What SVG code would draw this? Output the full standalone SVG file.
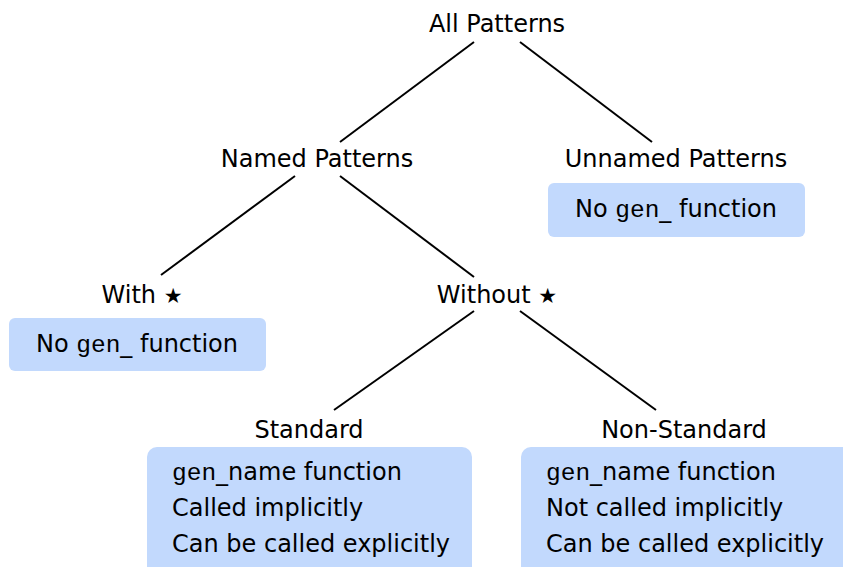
<svg xmlns="http://www.w3.org/2000/svg" width="843" height="567" viewBox="0 0 843 567">
<style>
text{font-family:"DejaVu Sans","Liberation Sans",sans-serif;font-size:24px;fill:#000}
.c{text-anchor:middle}
.m{font-family:"Liberation Mono","DejaVu Sans Mono",monospace;font-size:24.5px}
.s{font-size:21px}
.box{fill:#c2d9fd}
.edge{stroke:#000;stroke-width:2;fill:none}
</style>
<rect width="843" height="567" fill="#fff"/>
<g id="connectors">
<line class="edge" x1="474" y1="42" x2="340" y2="142"/>
<line class="edge" x1="520" y1="42" x2="652" y2="142"/>
<line class="edge" x1="295" y1="176" x2="161" y2="275"/>
<line class="edge" x1="340" y1="176" x2="474" y2="277"/>
<line class="edge" x1="474" y1="311" x2="334" y2="410"/>
<line class="edge" x1="520" y1="311" x2="656" y2="410"/>
</g>
<g id="all"><text class="c" x="497" y="32">All Patterns</text></g>
<g id="named"><text class="c" x="317" y="167">Named Patterns</text></g>
<g id="unnamed">
<text class="c" x="676" y="167">Unnamed Patterns</text>
<rect class="box" x="548" y="183" width="257" height="54" rx="6"/>
<text class="c" x="676" y="217">No <tspan class="m">gen</tspan>_ function</text>
</g>
<g id="with">
<text class="c" x="142" y="303">With <tspan class="s">★</tspan></text>
<rect class="box" x="9" y="318" width="257" height="53" rx="6"/>
<text class="c" x="137" y="352">No <tspan class="m">gen</tspan>_ function</text>
</g>
<g id="without"><text class="c" x="497" y="303">Without <tspan class="s">★</tspan></text></g>
<g id="standard">
<text class="c" x="309" y="438">Standard</text>
<rect class="box" x="147" y="447" width="325" height="130" rx="10"/>
<text x="172" y="480"><tspan class="m">gen</tspan>_name function</text>
<text x="172" y="516">Called implicitly</text>
<text x="172" y="552">Can be called explicitly</text>
</g>
<g id="nonstandard">
<text class="c" x="684" y="438">Non-Standard</text>
<rect class="box" x="521" y="447" width="332" height="130" rx="10"/>
<text x="546" y="480"><tspan class="m">gen</tspan>_name function</text>
<text x="546" y="516">Not called implicitly</text>
<text x="546" y="552">Can be called explicitly</text>
</g>
</svg>
